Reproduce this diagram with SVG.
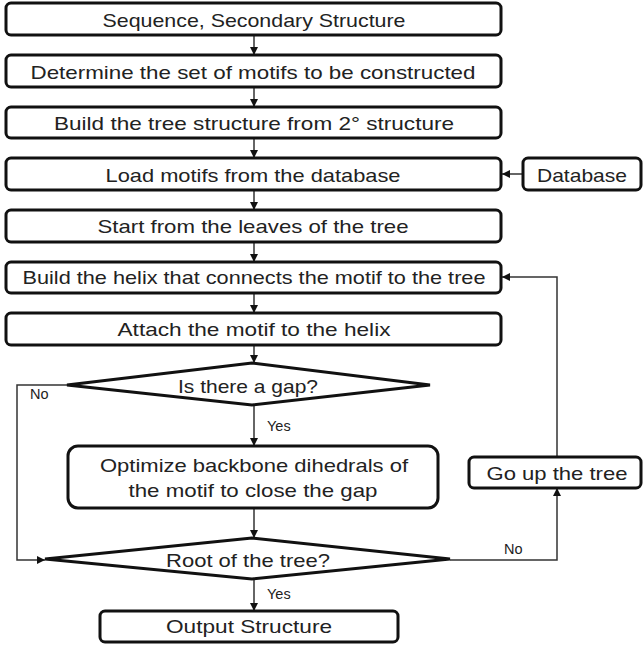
<svg xmlns="http://www.w3.org/2000/svg" width="643" height="645" viewBox="0 0 643 645">
<style>
.box{fill:#fff;stroke:#111;stroke-width:3}
.t{font-family:"Liberation Sans",Arial,sans-serif;font-size:19px;fill:#222;text-anchor:middle}
.s{font-family:"Liberation Sans",Arial,sans-serif;font-size:14.5px;fill:#222}
.c{fill:none;stroke:#333;stroke-width:1.5}
</style>
<defs>
<marker id="ah" viewBox="0 0 10 10" refX="10" refY="5" markerWidth="8" markerHeight="8" markerUnits="userSpaceOnUse" orient="auto">
<path d="M0,0 L10,5 L0,10 z" fill="#111"/>
</marker>
</defs>
<g id="connectors">
<line class="c" x1="254" y1="35" x2="254" y2="55" marker-end="url(#ah)"/>
<line class="c" x1="254" y1="87" x2="254" y2="107" marker-end="url(#ah)"/>
<line class="c" x1="254" y1="138" x2="254" y2="158" marker-end="url(#ah)"/>
<line class="c" x1="254" y1="190" x2="254" y2="210" marker-end="url(#ah)"/>
<line class="c" x1="254" y1="242" x2="254" y2="262" marker-end="url(#ah)"/>
<line class="c" x1="254" y1="293" x2="254" y2="313" marker-end="url(#ah)"/>
<line class="c" x1="254" y1="345" x2="254" y2="363" marker-end="url(#ah)"/>
<line class="c" x1="254" y1="405" x2="254" y2="446" marker-end="url(#ah)"/>
<line class="c" x1="254" y1="508" x2="254" y2="538" marker-end="url(#ah)"/>
<line class="c" x1="254" y1="579" x2="254" y2="611" marker-end="url(#ah)"/>
<line class="c" x1="523" y1="174" x2="502" y2="174" marker-end="url(#ah)"/>
<polyline class="c" points="67,385 17,385 17,560 45,560" marker-end="url(#ah)"/>
<polyline class="c" points="450,560 557,560 557,488" marker-end="url(#ah)"/>
<polyline class="c" points="557,457 557,277 502,277" marker-end="url(#ah)"/>
<text class="s" x="30" y="399">No</text>
<text class="s" x="267" y="431">Yes</text>
<text class="s" x="504" y="554">No</text>
<text class="s" x="267" y="599">Yes</text>
</g>
<g id="n1"><rect class="box" x="6" y="3" width="495" height="32" rx="5"/><text class="t" x="254" y="27" textLength="303" lengthAdjust="spacingAndGlyphs">Sequence, Secondary Structure</text></g>
<g id="n2"><rect class="box" x="6" y="55" width="495" height="32" rx="5"/><text class="t" x="253" y="79" textLength="445" lengthAdjust="spacingAndGlyphs">Determine the set of motifs to be constructed</text></g>
<g id="n3"><rect class="box" x="6" y="107" width="495" height="31" rx="5"/><text class="t" x="254" y="130" textLength="400" lengthAdjust="spacingAndGlyphs">Build the tree structure from 2° structure</text></g>
<g id="n4"><rect class="box" x="6" y="158" width="495" height="32" rx="5"/><text class="t" x="253" y="182" textLength="295" lengthAdjust="spacingAndGlyphs">Load motifs from the database</text></g>
<g id="db"><rect class="box" x="523" y="158" width="118" height="32" rx="5"/><text class="t" x="582" y="182" textLength="90" lengthAdjust="spacingAndGlyphs">Database</text></g>
<g id="n5"><rect class="box" x="6" y="210" width="495" height="32" rx="5"/><text class="t" x="253" y="233" textLength="311" lengthAdjust="spacingAndGlyphs">Start from the leaves of the tree</text></g>
<g id="n6"><rect class="box" x="6" y="262" width="495" height="31" rx="5"/><text class="t" x="254" y="284" textLength="463" lengthAdjust="spacingAndGlyphs">Build the helix that connects the motif to the tree</text></g>
<g id="n7"><rect class="box" x="6" y="313" width="495" height="32" rx="5"/><text class="t" x="254" y="336" textLength="273" lengthAdjust="spacingAndGlyphs">Attach the motif to the helix</text></g>
<g id="d1"><polygon class="box" points="67,385 252,363 430,385 252,405"/><text class="t" x="248" y="393" textLength="140" lengthAdjust="spacingAndGlyphs">Is there a gap?</text></g>
<g id="n8"><rect class="box" x="68" y="446" width="370" height="62" rx="10"/><text class="t" x="254" y="472" textLength="308" lengthAdjust="spacingAndGlyphs">Optimize backbone dihedrals of</text><text class="t" x="253" y="497" textLength="249" lengthAdjust="spacingAndGlyphs">the motif to close the gap</text></g>
<g id="up"><rect class="box" x="469" y="457" width="172" height="31" rx="5"/><text class="t" x="557" y="480" textLength="141" lengthAdjust="spacingAndGlyphs">Go up the tree</text></g>
<g id="d2"><polygon class="box" points="45,559 252,538 450,559 252,579"/><text class="t" x="248" y="567" textLength="164" lengthAdjust="spacingAndGlyphs">Root of the tree?</text></g>
<g id="out"><rect class="box" x="100" y="611" width="298" height="31" rx="5"/><text class="t" x="249" y="633" textLength="166" lengthAdjust="spacingAndGlyphs">Output Structure</text></g>
</svg>
